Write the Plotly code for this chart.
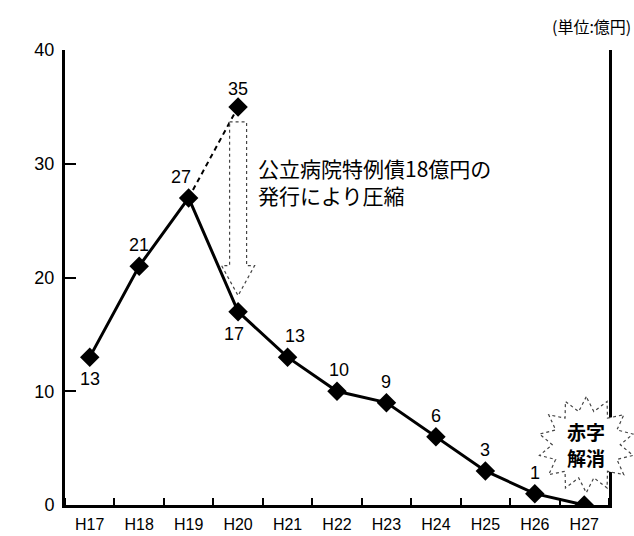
import numpy as np
import plotly.graph_objects as go

# Fiscal years (Heisei) and the yearly deficit in 100 million yen
years = ["H17", "H18", "H19", "H20", "H21", "H22", "H23", "H24", "H25", "H26", "H27"]
deficit = [13, 21, 27, 17, 13, 10, 9, 6, 3, 1, 0]

# Projection for H20 without the special hospital bond
no_bond_years = ["H19", "H20"]
no_bond_deficit = [27, 35]
bond_amount = 18  # special bond issued in H20 (100 million yen)

# Where each value label sits relative to its marker (side, horizontal nudge in px)
label_side = ["below", "above", "above", "below", "above", "above",
              "above", "above", "above", "above", None]
label_nudge = [0, 0, -8, -4, 7, 2, 0, 0, 0, 0, 0]

# Layout geometry
W, H = 634, 536
M = dict(l=65, r=25, t=50, b=31)
plot_w = W - M["l"] - M["r"]
plot_h = H - M["t"] - M["b"]
x_range = [-0.5, len(years) - 0.5]
y_range = [0, 40]
ux = (x_range[1] - x_range[0]) / plot_w   # data units per pixel (x)
uy = (y_range[1] - y_range[0]) / plot_h   # data units per pixel (y)


def to_paper(xd, yd):
    return ((xd - x_range[0]) / (x_range[1] - x_range[0]),
            (yd - y_range[0]) / (y_range[1] - y_range[0]))


xi = list(range(len(years)))
idx = {y: i for i, y in enumerate(years)}

NUM_FONT = "Liberation Sans, Arial, sans-serif"
JP_FONT = "Noto Sans CJK JP, sans-serif"

fig = go.Figure()

# Dashed projection H19 -> H20
fig.add_trace(go.Scatter(
    x=[idx[y] for y in no_bond_years], y=no_bond_deficit,
    mode="lines", line=dict(color="black", width=2, dash="5px,4px"),
    hoverinfo="skip", showlegend=False))
fig.add_trace(go.Scatter(
    x=[idx[no_bond_years[-1]]], y=[no_bond_deficit[-1]],
    mode="markers", marker=dict(symbol="diamond", size=15, color="black"),
    showlegend=False))

# Main deficit line
fig.add_trace(go.Scatter(
    x=xi, y=deficit, mode="lines+markers",
    line=dict(color="black", width=3),
    marker=dict(symbol="diamond", size=15, color="black"),
    showlegend=False))

# Hollow arrow showing the compression by the bond
ax = idx[no_bond_years[-1]]
top = no_bond_deficit[-1] - 15 * uy
tip = no_bond_deficit[-1] - bond_amount + 16 * uy
head = tip + 30 * uy
sw, hw = 8.5 * ux, 16.5 * ux
arrow_path = (f"M {ax - sw} {top} L {ax + sw} {top} L {ax + sw} {head} "
              f"L {ax + hw} {head} L {ax} {tip} L {ax - hw} {head} "
              f"L {ax - sw} {head} Z")
fig.add_shape(type="path", path=arrow_path, xref="x", yref="y",
              fillcolor="white", line=dict(color="#444", width=1.2, dash="dot"),
              layer="above")

# Value labels
annotations = []
for i, (v, side, dx) in enumerate(zip(deficit, label_side, label_nudge)):
    if side is None:
        continue
    annotations.append(dict(
        x=i, y=v, text=str(v), showarrow=False, xshift=dx,
        yshift=21 if side == "above" else -22,
        font=dict(family=NUM_FONT, size=18, color="black")))
annotations.append(dict(
    x=idx[no_bond_years[-1]], y=no_bond_deficit[-1], text=str(no_bond_deficit[-1]),
    showarrow=False, yshift=18, font=dict(family=NUM_FONT, size=18, color="black")))

# Explanation of the compression
annotations.append(dict(
    x=ax, y=28.4, xref="x", yref="y", xanchor="left", yanchor="middle",
    xshift=18, align="left", showarrow=False,
    text=f"公立病院特例債{bond_amount}億円の<br>発行により圧縮",
    font=dict(family=JP_FONT, size=21, color="black")))

# Unit label
annotations.append(dict(
    x=1.0, y=1.0, xref="paper", yref="paper", xanchor="right", yanchor="bottom",
    yshift=10, xshift=24, showarrow=False, text="(単位:億円)",
    font=dict(family=JP_FONT, size=16, color="black")))

# Starburst "deficit eliminated" (paper coordinates so it may overhang the frame)
cx, cy = idx["H27"] + 2 * ux, 5.3
n_spikes = 14
angles = np.linspace(0, 2 * np.pi, 2 * n_spikes, endpoint=False) + np.pi / 2
radii = np.where(np.arange(2 * n_spikes) % 2 == 0, 48, 34)
pts = [to_paper(cx + r * np.cos(a) * ux, cy + r * np.sin(a) * uy)
       for a, r in zip(angles, radii)]
star_path = "M " + " L ".join(f"{px:.5f} {py:.5f}" for px, py in pts) + " Z"
fig.add_shape(type="path", path=star_path, xref="paper", yref="paper",
              fillcolor="white", line=dict(color="#444", width=1.2, dash="dot"),
              layer="above")
for line_text, dy in (("赤字", 13), ("解消", -13)):
    annotations.append(dict(
        x=cx, y=cy, xref="x", yref="y", showarrow=False, yshift=dy,
        text=f"<b>{line_text}</b>",
        font=dict(family=JP_FONT, size=19, color="black")))

fig.update_layout(
    width=W, height=H, margin=M,
    paper_bgcolor="white", plot_bgcolor="white",
    showlegend=False, annotations=annotations,
    xaxis=dict(
        range=x_range, tickvals=xi, ticktext=years, ticks="",
        showline=True, linecolor="black", linewidth=3,
        showgrid=False, zeroline=False, automargin=False,
        tickfont=dict(family=NUM_FONT, size=16, color="black"),
        ticklabelstandoff=3,
        minor=dict(tick0=0.5, dtick=1, ticks="inside", ticklen=7,
                   tickcolor="black", tickwidth=1.5, showgrid=False),
    ),
    yaxis=dict(
        range=y_range, tickvals=[0, 10, 20, 30, 40],
        ticks="inside", ticklen=11, tickcolor="black", tickwidth=1.5,
        showline=True, linecolor="black", linewidth=3, mirror=True,
        showgrid=False, zeroline=False, automargin=False,
        tickfont=dict(family=NUM_FONT, size=18, color="black"),
        ticklabelstandoff=4,
    ),
)

fig.write_html("out.html")
